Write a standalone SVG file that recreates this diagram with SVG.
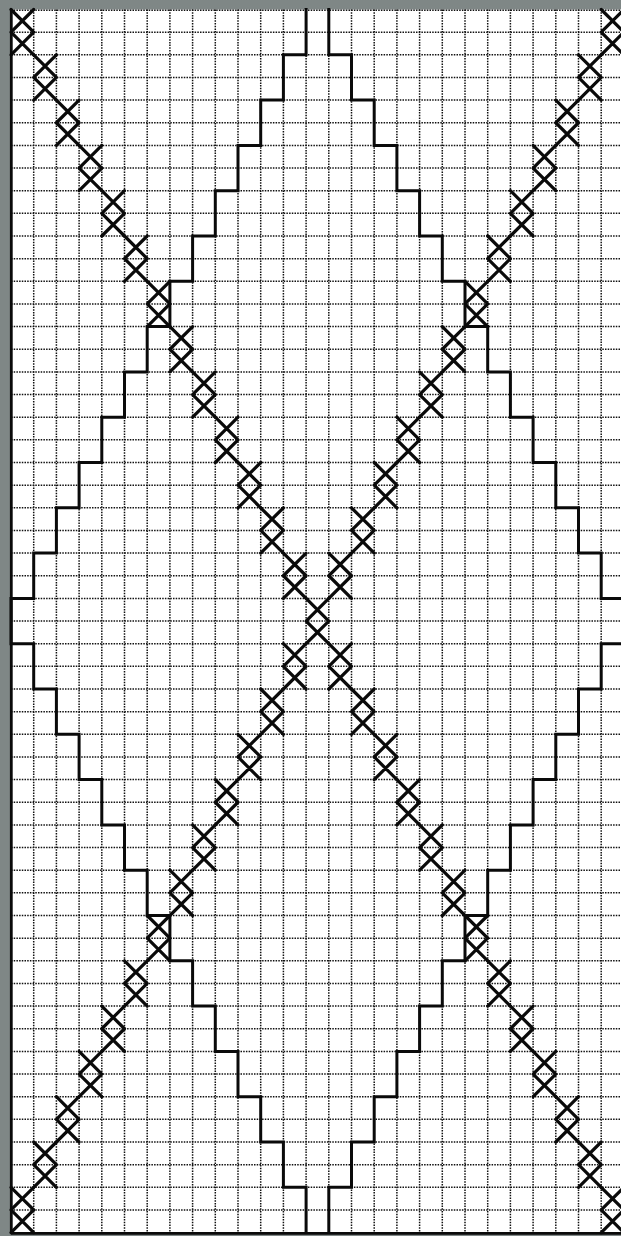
<svg xmlns="http://www.w3.org/2000/svg" xmlns:xlink="http://www.w3.org/1999/xlink" width="621" height="1236" viewBox="0 0 621 1236">
<defs>
<style>
.bg{fill:#ffffff}
.frame{fill:#7f8786}
.grid{fill:none;stroke:#111;stroke-width:1.5;stroke-dasharray:1.5 1.2}
.edge{fill:none;stroke:#0a0a0a;stroke-width:2.8}
.outline{fill:none;stroke:#0a0a0a;stroke-width:3;stroke-linejoin:miter;stroke-linecap:square}
.cross{fill:none;stroke:#0a0a0a;stroke-width:3.2;stroke-linecap:round}
</style>
<path id="xx" d="M0,0 L22.7,22.65 M22.7,0 L0,22.65 M0,22.65 L22.7,45.3 M22.7,22.65 L0,45.3"/>
</defs>
<rect class="frame" x="0" y="0" width="621" height="1236"/>
<rect class="bg" x="11" y="9.5" width="610" height="1223.5"/>
<g id="grid">
<path class="grid" d="M33.7,9.5V1232.6M56.4,9.5V1232.6M79.1,9.5V1232.6M101.8,9.5V1232.6M124.5,9.5V1232.6M147.2,9.5V1232.6M169.9,9.5V1232.6M192.6,9.5V1232.6M215.3,9.5V1232.6M238,9.5V1232.6M260.7,9.5V1232.6M283.4,9.5V1232.6M306.1,9.5V1232.6M328.8,9.5V1232.6M351.5,9.5V1232.6M374.2,9.5V1232.6M396.9,9.5V1232.6M419.6,9.5V1232.6M442.3,9.5V1232.6M465,9.5V1232.6M487.7,9.5V1232.6M510.4,9.5V1232.6M533.1,9.5V1232.6M555.8,9.5V1232.6M578.5,9.5V1232.6M601.2,9.5V1232.6"/>
<path class="grid" d="M11,10.2H621M11,32.15H621M11,54.8H621M11,77.45H621M11,100.1H621M11,122.75H621M11,145.4H621M11,168.05H621M11,190.7H621M11,213.35H621M11,236H621M11,258.65H621M11,281.3H621M11,303.95H621M11,326.6H621M11,349.25H621M11,371.9H621M11,394.55H621M11,417.2H621M11,439.85H621M11,462.5H621M11,485.15H621M11,507.8H621M11,530.45H621M11,553.1H621M11,575.75H621M11,598.4H621M11,621.05H621M11,643.7H621M11,666.35H621M11,689H621M11,711.65H621M11,734.3H621M11,756.95H621M11,779.6H621M11,802.25H621M11,824.9H621M11,847.55H621M11,870.2H621M11,892.85H621M11,915.5H621M11,938.15H621M11,960.8H621M11,983.45H621M11,1006.1H621M11,1028.75H621M11,1051.4H621M11,1074.05H621M11,1096.7H621M11,1119.35H621M11,1142H621M11,1164.65H621M11,1187.3H621M11,1209.95H621"/>
<path class="edge" d="M11.3,9.5V1233.3M11,1233.3H621"/>
</g>
<g id="outline">
<path class="outline" d="M306.1,9.5V54.8H283.4V100.1H260.7V145.4H238V190.7H215.3V236H192.6V281.3H169.9V326.6H147.2V371.9H124.5V417.2H101.8V462.5H79.1V507.8H56.4V553.1H33.7V598.4H11V643.7H33.7V689H56.4V734.3H79.1V779.6H101.8V824.9H124.5V870.2H147.2V915.5H169.9V960.8H192.6V1006.1H215.3V1051.4H238V1096.7H260.7V1142H283.4V1187.3H306.1V1232.6"/>
<path class="outline" d="M328.8,9.5V54.8H351.5V100.1H374.2V145.4H396.9V190.7H419.6V236H442.3V281.3H465V326.6H487.7V371.9H510.4V417.2H533.1V462.5H555.8V507.8H578.5V553.1H601.2V598.4H623.9V643.7H601.2V689H578.5V734.3H555.8V779.6H533.1V824.9H510.4V870.2H487.7V915.5H465V960.8H442.3V1006.1H419.6V1051.4H396.9V1096.7H374.2V1142H351.5V1187.3H328.8V1232.6"/>
</g>
<g id="diagonal-down">
<use class="cross" href="#xx" x="11" y="9.5"/>
<use class="cross" href="#xx" x="33.7" y="54.8"/>
<use class="cross" href="#xx" x="56.4" y="100.1"/>
<use class="cross" href="#xx" x="79.1" y="145.4"/>
<use class="cross" href="#xx" x="101.8" y="190.7"/>
<use class="cross" href="#xx" x="124.5" y="236"/>
<use class="cross" href="#xx" x="147.2" y="281.3"/>
<use class="cross" href="#xx" x="169.9" y="326.6"/>
<use class="cross" href="#xx" x="192.6" y="371.9"/>
<use class="cross" href="#xx" x="215.3" y="417.2"/>
<use class="cross" href="#xx" x="238" y="462.5"/>
<use class="cross" href="#xx" x="260.7" y="507.8"/>
<use class="cross" href="#xx" x="283.4" y="553.1"/>
<use class="cross" href="#xx" x="306.1" y="598.4"/>
<use class="cross" href="#xx" x="328.8" y="643.7"/>
<use class="cross" href="#xx" x="351.5" y="689"/>
<use class="cross" href="#xx" x="374.2" y="734.3"/>
<use class="cross" href="#xx" x="396.9" y="779.6"/>
<use class="cross" href="#xx" x="419.6" y="824.9"/>
<use class="cross" href="#xx" x="442.3" y="870.2"/>
<use class="cross" href="#xx" x="465" y="915.5"/>
<use class="cross" href="#xx" x="487.7" y="960.8"/>
<use class="cross" href="#xx" x="510.4" y="1006.1"/>
<use class="cross" href="#xx" x="533.1" y="1051.4"/>
<use class="cross" href="#xx" x="555.8" y="1096.7"/>
<use class="cross" href="#xx" x="578.5" y="1142"/>
<use class="cross" href="#xx" x="601.2" y="1187.3"/>
</g>
<g id="diagonal-up">
<use class="cross" href="#xx" x="601.2" y="9.5"/>
<use class="cross" href="#xx" x="578.5" y="54.8"/>
<use class="cross" href="#xx" x="555.8" y="100.1"/>
<use class="cross" href="#xx" x="533.1" y="145.4"/>
<use class="cross" href="#xx" x="510.4" y="190.7"/>
<use class="cross" href="#xx" x="487.7" y="236"/>
<use class="cross" href="#xx" x="465" y="281.3"/>
<use class="cross" href="#xx" x="442.3" y="326.6"/>
<use class="cross" href="#xx" x="419.6" y="371.9"/>
<use class="cross" href="#xx" x="396.9" y="417.2"/>
<use class="cross" href="#xx" x="374.2" y="462.5"/>
<use class="cross" href="#xx" x="351.5" y="507.8"/>
<use class="cross" href="#xx" x="328.8" y="553.1"/>
<use class="cross" href="#xx" x="283.4" y="643.7"/>
<use class="cross" href="#xx" x="260.7" y="689"/>
<use class="cross" href="#xx" x="238" y="734.3"/>
<use class="cross" href="#xx" x="215.3" y="779.6"/>
<use class="cross" href="#xx" x="192.6" y="824.9"/>
<use class="cross" href="#xx" x="169.9" y="870.2"/>
<use class="cross" href="#xx" x="147.2" y="915.5"/>
<use class="cross" href="#xx" x="124.5" y="960.8"/>
<use class="cross" href="#xx" x="101.8" y="1006.1"/>
<use class="cross" href="#xx" x="79.1" y="1051.4"/>
<use class="cross" href="#xx" x="56.4" y="1096.7"/>
<use class="cross" href="#xx" x="33.7" y="1142"/>
<use class="cross" href="#xx" x="11" y="1187.3"/>
</g>
</svg>
